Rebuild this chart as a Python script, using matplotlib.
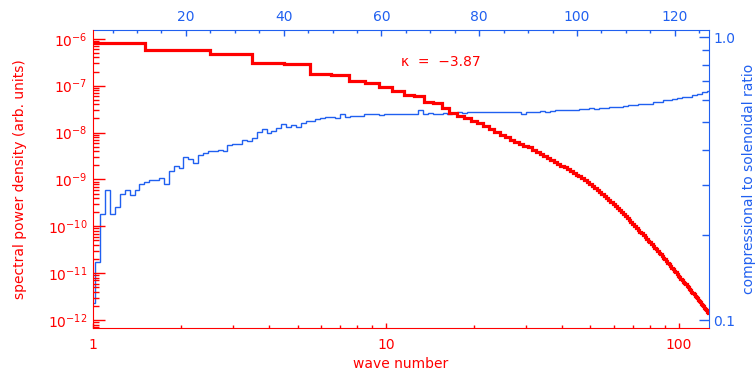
import numpy as np
from matplotlib import pyplot as plt
from matplotlib import ticker

# wave numbers 1..127, bins are centred on the integers
k = np.arange(1, 128)
edges = np.arange(0.5, 128.5, 1.0)

# log10 of spectral power density (red)
power_log = [
    -6.090, -6.239, -6.324, -6.527, -6.548, -6.741, -6.762, -6.911, -6.933, -7.018,
    -7.114, -7.210, -7.231, -7.349, -7.370, -7.487, -7.583, -7.641, -7.699, -7.754,
    -7.807, -7.867, -7.931, -7.989, -8.044, -8.098, -8.149, -8.194, -8.236, -8.277,
    -8.315, -8.364, -8.411, -8.456, -8.501, -8.544, -8.586, -8.627, -8.665, -8.704,
    -8.742, -8.783, -8.821, -8.857, -8.896, -8.930, -8.973, -9.013, -9.056, -9.096,
    -9.135, -9.175, -9.218, -9.263, -9.308, -9.350, -9.395, -9.438, -9.481, -9.525,
    -9.570, -9.615, -9.658, -9.700, -9.741, -9.781, -9.822, -9.865, -9.905, -9.948,
    -9.991, -10.033, -10.072, -10.112, -10.153, -10.191, -10.230, -10.270, -10.306, -10.345,
    -10.381, -10.420, -10.456, -10.492, -10.528, -10.562, -10.597, -10.631, -10.669, -10.706,
    -10.742, -10.778, -10.814, -10.848, -10.883, -10.917, -10.951, -10.985, -11.017, -11.051,
    -11.085, -11.115, -11.149, -11.179, -11.211, -11.241, -11.273, -11.303, -11.335, -11.363,
    -11.393, -11.420, -11.448, -11.480, -11.508, -11.538, -11.568, -11.595, -11.623, -11.651,
    -11.679, -11.708, -11.736, -11.764, -11.792, -11.819, -11.847]

# compressional to solenoidal ratio (blue)
ratio = [
    0.115, 0.161, 0.237, 0.288, 0.238, 0.251, 0.279, 0.289, 0.277, 0.288,
    0.302, 0.308, 0.312, 0.314, 0.319, 0.302, 0.336, 0.351, 0.344, 0.376,
    0.370, 0.360, 0.383, 0.390, 0.397, 0.395, 0.399, 0.395, 0.416, 0.418,
    0.418, 0.433, 0.431, 0.441, 0.461, 0.473, 0.460, 0.467, 0.478, 0.492,
    0.483, 0.488, 0.482, 0.499, 0.505, 0.506, 0.513, 0.520, 0.521, 0.521,
    0.517, 0.535, 0.524, 0.527, 0.528, 0.527, 0.534, 0.537, 0.537, 0.531,
    0.534, 0.534, 0.537, 0.535, 0.536, 0.534, 0.535, 0.551, 0.537, 0.538,
    0.536, 0.537, 0.538, 0.536, 0.540, 0.543, 0.541, 0.544, 0.543, 0.545,
    0.542, 0.544, 0.543, 0.546, 0.544, 0.545, 0.543, 0.542, 0.535, 0.544,
    0.546, 0.545, 0.547, 0.546, 0.549, 0.552, 0.551, 0.554, 0.553, 0.555,
    0.558, 0.557, 0.560, 0.559, 0.561, 0.564, 0.566, 0.565, 0.568, 0.572,
    0.574, 0.576, 0.580, 0.581, 0.583, 0.590, 0.592, 0.598, 0.600, 0.605,
    0.608, 0.613, 0.616, 0.624, 0.628, 0.638, 0.646]

slope_text = 'κ  =  −3.87'

RED = '#ff0000'
BLUE = '#2060f0'

plt.rcParams['font.family'] = ['DejaVu Sans']
plt.rcParams['font.size'] = 10

fig = plt.figure(figsize=(7.55, 3.71), dpi=100)
pos = [93/755, 43/371, 616/755, 298/371]

# blue axes (top / right), drawn underneath
ax_b = fig.add_axes(pos)
ax_b.stairs(ratio, edges, baseline=None, color=BLUE, lw=1.0)
ax_b.set_xlim(1, 127)
ax_b.set_yscale('log')
ax_b.set_ylim(0.0937, 1.061)
ax_b.xaxis.tick_top()
ax_b.yaxis.tick_right()
ax_b.yaxis.set_label_position('right')
ax_b.xaxis.set_major_locator(ticker.MultipleLocator(20))
ax_b.xaxis.set_minor_locator(ticker.MultipleLocator(5))
ax_b.yaxis.set_major_locator(ticker.FixedLocator([0.1, 1.0]))
ax_b.yaxis.set_major_formatter(ticker.FixedFormatter(['0.1', '1.0']))
ax_b.yaxis.set_minor_locator(ticker.FixedLocator([0.2, 0.3, 0.4, 0.5, 0.6, 0.7, 0.8, 0.9]))
ax_b.yaxis.set_minor_formatter(ticker.NullFormatter())
ax_b.tick_params(axis='x', which='major', direction='in', length=4, width=1,
                 color=BLUE, labelcolor=BLUE, pad=4)
ax_b.tick_params(axis='x', which='minor', direction='in', length=2.5, width=1, color=BLUE)
ax_b.tick_params(axis='y', which='major', direction='in', length=7.5, width=1,
                 color=BLUE, labelcolor=BLUE, pad=3)
ax_b.tick_params(axis='y', which='minor', direction='in', length=5, width=1, color=BLUE)
ax_b.set_ylabel('compressional to solenoidal ratio', color=BLUE, labelpad=5)
for s in ['left', 'bottom']:
    ax_b.spines[s].set_visible(False)
for s in ['top', 'right']:
    ax_b.spines[s].set_color(BLUE)

# red axes (bottom / left), on top
ax_r = fig.add_axes(pos, facecolor='none')
ax_r.stairs(10.0 ** np.array(power_log), edges, baseline=None, color=RED, lw=2.3)
ax_r.set_xscale('log')
ax_r.set_yscale('log')
ax_r.set_xlim(1, 127)
ax_r.set_ylim(6.75e-13, 1.54e-6)
ax_r.xaxis.set_major_locator(ticker.FixedLocator([1, 10, 100]))
ax_r.xaxis.set_major_formatter(ticker.FuncFormatter(lambda v, p: '%g' % v))
ax_r.xaxis.set_minor_locator(ticker.LogLocator(base=10, subs=np.arange(2, 10), numticks=20))
ax_r.xaxis.set_minor_formatter(ticker.NullFormatter())
ax_r.yaxis.set_major_locator(ticker.LogLocator(base=10, numticks=20))
ax_r.yaxis.set_minor_locator(ticker.LogLocator(base=10, subs=np.arange(2, 10), numticks=20))
ax_r.yaxis.set_minor_formatter(ticker.NullFormatter())
ax_r.tick_params(axis='x', which='major', direction='in', length=3.5, width=1,
                 color=RED, labelcolor=RED, pad=7)
ax_r.tick_params(axis='x', which='minor', direction='in', length=2, width=1, color=RED)
ax_r.tick_params(axis='y', which='major', direction='in', length=8.5, width=1,
                 color=RED, labelcolor=RED, pad=4)
ax_r.tick_params(axis='y', which='minor', direction='in', length=4.5, width=1, color=RED)
ax_r.set_xlabel('wave number', color=RED, labelpad=4)
ax_r.set_ylabel('spectral power density (arb. units)', color=RED, labelpad=15)
for s in ['top', 'right']:
    ax_r.spines[s].set_visible(False)
for s in ['left', 'bottom']:
    ax_r.spines[s].set_color(RED)

ax_r.text(0.5, 0.893, slope_text, transform=ax_r.transAxes, color=RED,
          ha='left', va='center', fontsize=10)

fig.savefig('out.png', dpi=100)
